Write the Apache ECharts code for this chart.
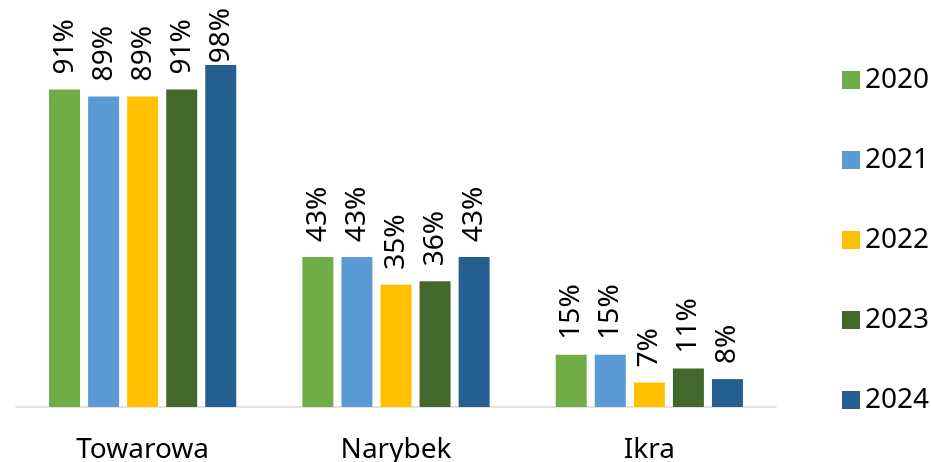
<!DOCTYPE html>
<html>
<head>
<meta charset="utf-8">
<title>Udział</title>
<script src="https://cdn.jsdelivr.net/npm/echarts@6/dist/echarts.min.js"></script>
<style>
  html, body { margin: 0; padding: 0; background: #fff; }
  #main { width: 931px; height: 462px; }
</style>
</head>
<body>
<div id="main"></div>
<script>
// kategorie
var categories = ['Towarowa', 'Narybek', 'Ikra'];
// lata
var years = ['2020', '2021', '2022', '2023', '2024'];
// wartości w % dla każdego roku
var v2020 = [91, 43, 15];
var v2021 = [89, 43, 15];
var v2022 = [89, 35, 7];
var v2023 = [91, 36, 11];
var v2024 = [98, 43, 8];
var colors = ['#70ad47', '#5b9bd5', '#ffc000', '#43682b', '#255e91'];

var values = [v2020, v2021, v2022, v2023, v2024];
var font = '"Noto Sans", "Open Sans", sans-serif';

var series = years.map(function (y, i) {
  return {
    name: y,
    type: 'bar',
    data: values[i],
    barWidth: 31,
    barGap: '26%',
    itemStyle: { color: colors[i] },
    label: {
      show: true,
      position: 'top',
      distance: 15,
      rotate: 90,
      align: 'left',
      verticalAlign: 'middle',
      formatter: '{c}%',
      fontFamily: font,
      fontSize: 28,
      color: '#000'
    },
    // etykieta nie może wyjść poza górną krawędź
    labelLayout: function (p) {
      var len = p.labelRect.height;
      if (p.rect.y - 15 - len < 8) {
        return { x: p.rect.x + p.rect.width / 2, y: 8 + len };
      }
      return {};
    }
  };
});

var myChart = echarts.init(document.getElementById('main'));
myChart.setOption({
  backgroundColor: '#fff',
  animation: false,
  legend: {
    orient: 'vertical',
    left: 837,
    top: 61,
    itemWidth: 18,
    itemHeight: 18,
    itemGap: 52,
    icon: 'rect',
    data: years,
    textStyle: { fontFamily: font, fontSize: 28, lineHeight: 28, color: '#000' }
  },
  grid: { left: 16, right: 155, top: 58, bottom: 55, outerBoundsMode: 'none', containLabel: false },
  xAxis: {
    type: 'category',
    data: categories,
    axisLine: { lineStyle: { color: '#d9d9d9', width: 1.5 } },
    axisTick: { show: false },
    axisLabel: { fontFamily: font, fontSize: 28, color: '#000', margin: 29 }
  },
  yAxis: {
    type: 'value',
    min: 0,
    max: 100,
    show: false,
    splitLine: { show: false }
  },
  series: series
});
</script>
</body>
</html>
